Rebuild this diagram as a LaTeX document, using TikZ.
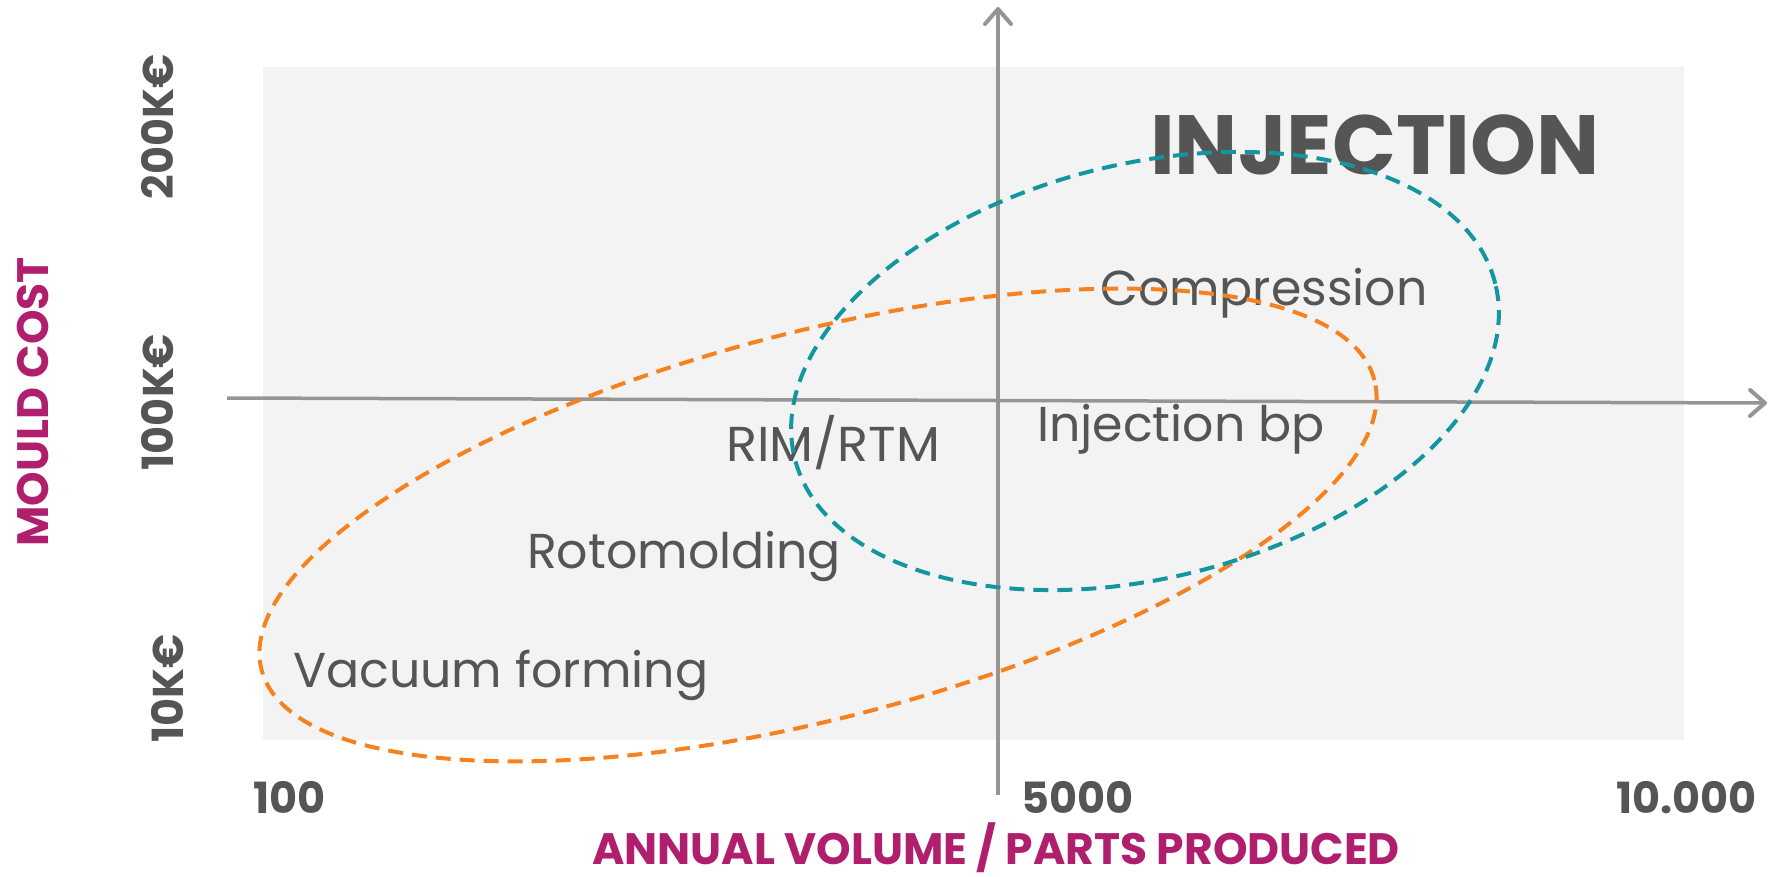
\documentclass[tikz,border=0pt]{standalone}
\usepackage{fontspec}
\setmainfont{Poppins}
\usetikzlibrary{arrows.meta}
\definecolor{bggray}{HTML}{F3F3F3}
\definecolor{axisgray}{HTML}{959595}
\definecolor{txtgray}{HTML}{555555}
\definecolor{magen}{HTML}{B01E6E}
\definecolor{tealc}{HTML}{1496A0}
\definecolor{orangec}{HTML}{F5821F}
\tikzset{
  axisline/.style={draw=axisgray, line width=3.5pt,
    -{Straight Barb[length=15pt,width=26pt,line width=4pt,round]}},
  lbl/.style={text=txtgray, inner sep=0pt, anchor=base west, font=\fontsize{49}{49}\selectfont},
  tick/.style={text=txtgray, inner sep=0pt, font=\bfseries\fontsize{43}{43}\selectfont},
  ttl/.style={text=magen, inner sep=0pt, anchor=base, font=\bfseries\fontsize{44}{44}\selectfont},
  dashell/.style={line width=4pt, dash pattern=on 15pt off 9pt}
}
\begin{document}
\begin{tikzpicture}[x=1pt,y=-1pt]
\useasboundingbox (0,0) rectangle (1778,876);
\fill[bggray] (263,67) rectangle (1684,740);
% axes
\coordinate (xl) at (227,398);
\coordinate (xr) at (1767,403);
\coordinate (yb) at (998,795);
\coordinate (yt) at (998,7);
\draw[axisline] (xl) -- (xr);
\draw[axisline] (yb) -- (yt);
% labels inside
\node[lbl, font=\bfseries\fontsize{84}{84}\selectfont] (inj) at (1150,174) {INJECTION};
\node[lbl] (comp) at (1100,305) {Compression};
\node[lbl] (injbp) at (1037,441) {Injection bp};
\node[lbl, xscale=1.04] (rim) at (726,461) {RIM/RTM};
\node[lbl] (roto) at (527,568) {Rotomolding};
\node[lbl] (vac) at (293,687) {Vacuum forming};
% ticks
\node[tick, anchor=base west] (t100) at (253,813) {100};
\node[tick, anchor=base west] (t5000) at (1021,813) {5000};
\node[tick, anchor=base east] (t10000) at (1757,813) {10.000};
\node[tick, anchor=base, rotate=90] (k200) at (173,127) {200K€};
\node[tick, anchor=base, rotate=90] (k100) at (173,402) {100K€};
\node[tick, anchor=base, rotate=90] (k10) at (183,688) {10K€};
% titles
\node[ttl] (xtitle) at (996,864) {ANNUAL VOLUME / PARTS PRODUCED};
\node[ttl, rotate=90] (ytitle) at (48,402) {MOULD COST};
% ellipses
\draw[dashell, draw=orangec, rotate around={14.6:(818,525)}] (818,525) ellipse [x radius=575pt, y radius=193pt];
\draw[dashell, draw=tealc, rotate around={14:(1145,371)}] (1145,371) ellipse [x radius=361pt, y radius=207pt];
\end{tikzpicture}
\end{document}
